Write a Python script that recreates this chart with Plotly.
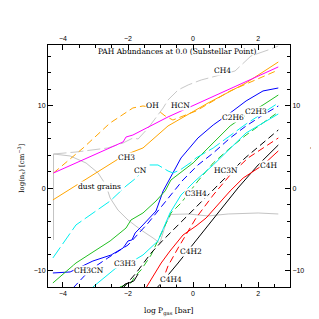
import plotly.graph_objects as go

# ---- data (log P_gas [bar], log n [cm^-3]) ----
ch4_x = [-4.29, -3.60, -2.62, -2.15, -1.85, -1.69, -1.38, -0.92, -0.77, -0.46, -0.15, 0.25, 1.29, 1.78, 2.31, 2.62]
ch4_y = [4.18, 4.42, 4.91, 5.52, 6.12, 6.00, 7.33, 9.76, 10.73, 11.94, 12.55, 13.15, 14.24, 16.06, 16.79, 17.27]

hcn_x = [-4.29, -3.60, -2.15, -2.06, -1.85, -0.77, 0.46, 1.69, 2.62]
hcn_y = [1.88, 3.09, 5.64, 6.24, 6.48, 8.67, 10.85, 13.03, 14.73]

oh_x = [-4.29, -3.38, -2.55, -1.85, -1.54, -1.17, -0.86, -0.62, 0.09, 1.14, 2.62]
oh_y = [1.88, 4.91, 7.94, 9.76, 10.00, 9.76, 8.79, 8.30, 9.39, 11.82, 14.36]

ch3_x = [-4.31, -2.25, -1.94, -1.54, -0.77, 0.46, 1.63, 2.62]
ch3_y = [-1.39, 3.70, 4.30, 4.91, 7.58, 10.36, 12.79, 15.33]

c2h6_x = [-4.31, -3.78, -3.08, -2.52, -2.15, -2.06, -2.00, -1.88, -1.78, -1.54, -1.14, -0.92, -0.71, -0.37, 0.15, 0.62, 1.14, 1.63, 2.15, 2.62]
c2h6_y = [-10.24, -10.12, -8.79, -8.06, -7.21, -6.73, -6.36, -6.24, -5.39, -4.42, -2.73, -0.30, 1.27, 3.70, 6.12, 7.70, 9.15, 10.61, 11.82, 12.18]

ch3cn_x = [-3.69, -3.17, -2.62, -2.00, -1.38, -1.08, -0.77, -0.31, 0.15, 0.62, 1.14, 1.63, 2.15, 2.62]
ch3cn_y = [-12.06, -9.88, -8.42, -6.85, -4.18, -2.73, -1.15, 1.03, 2.85, 4.30, 6.12, 7.58, 8.91, 10.00]

c2h3_x = [-4.31, -3.60, -2.55, -2.15, -2.06, -1.91, -1.54, -1.14, -0.86, -0.68, 0.00, 1.14, 1.63, 2.15, 2.62]
c2h3_y = [-11.45, -9.03, -6.36, -5.03, -4.79, -3.82, -2.97, -1.52, -0.30, 1.03, 3.09, 7.58, 8.91, 10.12, 11.33]

c2h2_x = [-2.25, -1.91, -1.78, -1.60, -1.29, -0.98, -0.68, -0.37, 0.15, 0.62, 1.14, 1.63, 2.15, 2.62]
c2h2_y = [-11.94, -11.45, -10.61, -9.88, -8.06, -5.39, -2.97, -1.76, 0.91, 3.09, 4.91, 6.48, 7.94, 9.27]

cn_x = [-4.31, -3.60, -2.55, -2.06, -1.75, -1.38, -1.08, -0.77, -0.62, -0.40, -0.09, 0.09, 0.62, 1.14, 1.63, 2.15, 2.62]
cn_y = [-8.42, -4.42, -1.52, 0.30, 1.27, 2.85, 2.85, 2.12, 1.88, 2.24, 3.09, 3.70, 4.91, 6.36, 7.82, 9.15, 10.36]

c3h4_x = [-3.08, -2.37, -1.85, -1.54, -1.08, -0.92, -0.71, -0.37, 0.06, 0.62, 1.14, 1.63, 2.15, 2.62]
c3h4_y = [-11.94, -9.64, -8.79, -8.06, -6.36, -4.79, -2.97, -0.79, 0.91, 2.85, 4.91, 6.73, 7.94, 9.03]

hc3n_x = [-2.15, -1.75, -1.29, -0.92, -0.15, 0.62, 1.60, 2.15, 2.62]
hc3n_y = [-12.06, -10.24, -7.82, -6.24, -3.21, -0.18, 3.70, 5.52, 7.09]

c3h3_x = [-2.31, -2.09, -1.97, -1.82, -1.69]
c3h3_y = [-12.42, -11.58, -11.45, -11.21, -10.36]

c4h4_x = [-1.23, -0.92, -0.46, 0.15, 0.77, 1.38, 2.00, 2.31, 2.62]
c4h4_y = [-12.55, -11.21, -9.03, -6.00, -2.97, 0.06, 2.85, 4.06, 5.27]

c4h2_x = [-1.45, -1.17, -0.98, -0.71, -0.31, 0.09, 0.40, 1.14, 1.54, 2.15, 2.62]
c4h2_y = [-12.06, -10.24, -9.03, -7.58, -5.64, -4.55, -3.58, -0.30, 1.27, 2.85, 4.55]

c4h_x = [-1.08, -0.92, -0.77, -0.46, 0.09, 0.62, 1.14, 1.69, 2.15, 2.62]
c4h_y = [-12.67, -10.85, -9.39, -7.21, -3.58, -0.79, 1.64, 3.70, 4.91, 6.12]

dust_x = [-4.29, -4.29, -3.78, -3.29, -2.92, -2.68, -2.55, -2.31, -2.00, -1.60, -1.23, -1.02, -0.83, -0.68, -0.15, 0.46, 1.08, 2.00, 2.62]
dust_y = [-6.24, 4.18, 3.94, 3.09, 1.88, 0.42, -1.15, -2.61, -3.82, -5.03, -6.00, -6.61, -4.18, -3.15, -3.09, -3.33, -3.09, -2.97, -3.09]

label_text = ["CH4", "OH", "HCN", "C2H6", "C2H3", "CH3", "CN", "dust grains", "CH3CN", "C3H3",
              "C3H4", "HC3N", "C4H", "C4H2", "C4H4"]
label_x = [0.92, -1.26, -0.40, 1.23, 1.94, -2.06, -1.63, -2.89, -3.20, -2.09, 0.09, 1.02, 2.34, -0.06, -0.68]
label_y = [14.36, 10.00, 10.00, 8.55, 9.39, 3.70, 2.12, 0.30, -10.00, -9.15, -0.55, 2.12, 2.73, -7.58, -11.00]

x_range = [-4.46, 2.98]
y_range = [-11.94, 17.39]

# ---- styles ----
DASH = "7px,4px"
LONG = "13px,4px"
series = [
    (ch4_x, ch4_y, "#c8c8c8", LONG),
    (dust_x, dust_y, "#c4c4c4", "solid"),
    (oh_x, oh_y, "#ffa500", DASH),
    (ch3_x, ch3_y, "#ffa500", "solid"),
    (hcn_x, hcn_y, "#ff00ff", "solid"),
    (c2h6_x, c2h6_y, "#0000ff", "solid"),
    (ch3cn_x, ch3cn_y, "#0000ff", DASH),
    (c2h3_x, c2h3_y, "#22c022", "solid"),
    (c2h2_x, c2h2_y, "#22c022", DASH),
    (cn_x, cn_y, "#00f0f0", LONG),
    (c3h4_x, c3h4_y, "#00f0f0", "solid"),
    (hc3n_x, hc3n_y, "#000000", DASH),
    (c3h3_x, c3h3_y, "#000000", "solid"),
    (c4h4_x, c4h4_y, "#000000", "solid"),
    (c4h2_x, c4h2_y, "#ff0000", "solid"),
    (c4h_x, c4h_y, "#ff0000", DASH),
]

fig = go.Figure()
for xs, ys, col, dash in series:
    fig.add_trace(go.Scatter(x=xs, y=ys, mode="lines", showlegend=False, hoverinfo="skip",
                             line=dict(color=col, width=1, dash=dash)))
# dummy trace to anchor the mirrored (top / right) axes
fig.add_trace(go.Scatter(x=[None], y=[None], xaxis="x2", yaxis="y2", showlegend=False))

LABEL_FONT = dict(family="DejaVu Serif", size=7.5, color="black")
for t, lx, ly in zip(label_text, label_x, label_y):
    fig.add_annotation(x=lx, y=ly, text=t, showarrow=False, font=LABEL_FONT,
                       bgcolor="white", borderpad=0)

tickfont = dict(family="Liberation Sans", size=7, color="black")
common_x = dict(range=x_range, dtick=2, tick0=0, ticks="inside", ticklen=5, tickcolor="black",
                showline=True, linecolor="black", linewidth=1, showgrid=False, zeroline=False,
                tickfont=tickfont, minor=dict(dtick=0.5, tick0=0, ticks="inside", ticklen=3, tickcolor="black"))
common_y = dict(range=y_range, dtick=10, tick0=0, ticks="inside", ticklen=5, tickcolor="black",
                showline=True, linecolor="black", linewidth=1, showgrid=False, zeroline=False,
                tickfont=tickfont, minor=dict(dtick=2, tick0=0, ticks="inside", ticklen=3, tickcolor="black"))

fig.update_layout(
    width=319, height=319, autosize=False,
    margin=dict(l=40, r=37, t=37, b=40),
    paper_bgcolor="white", plot_bgcolor="white",
    xaxis=dict(**common_x, side="bottom"),
    xaxis2=dict(**common_x, side="top", overlaying="x", anchor="y"),
    yaxis=dict(**common_y, side="left"),
    yaxis2=dict(**common_y, side="right", overlaying="y", anchor="x"),
)

TITLE_FONT = dict(family="DejaVu Serif", size=7.5, color="black")
AXT_FONT = dict(family="DejaVu Serif", size=7, color="black")
fig.add_annotation(xref="paper", yref="paper", x=0.535, y=0.975, text="PAH Abundances at 0.0 (Substellar Point)",
                   showarrow=False, font=TITLE_FONT, xanchor="center", yanchor="middle")
fig.add_annotation(xref="paper", yref="paper", x=0.5, y=-0.07, text="log P<sub>gas</sub> [bar]",
                   showarrow=False, font=TITLE_FONT, xanchor="center", yanchor="top")
fig.add_annotation(xref="paper", yref="paper", x=-0.11, y=0.49, text="log(n<sub>x</sub>) [cm<sup>−3</sup>]",
                   showarrow=False, font=AXT_FONT, textangle=-90, xanchor="center", yanchor="middle")
fig.add_annotation(xref="paper", yref="paper", x=1.10, y=0.49, text="log(n<sub>s</sub>) [cm<sup>−3</sup>]",
                   showarrow=False, font=AXT_FONT, textangle=-90, xanchor="center", yanchor="middle")

fig.write_html("out.html")
